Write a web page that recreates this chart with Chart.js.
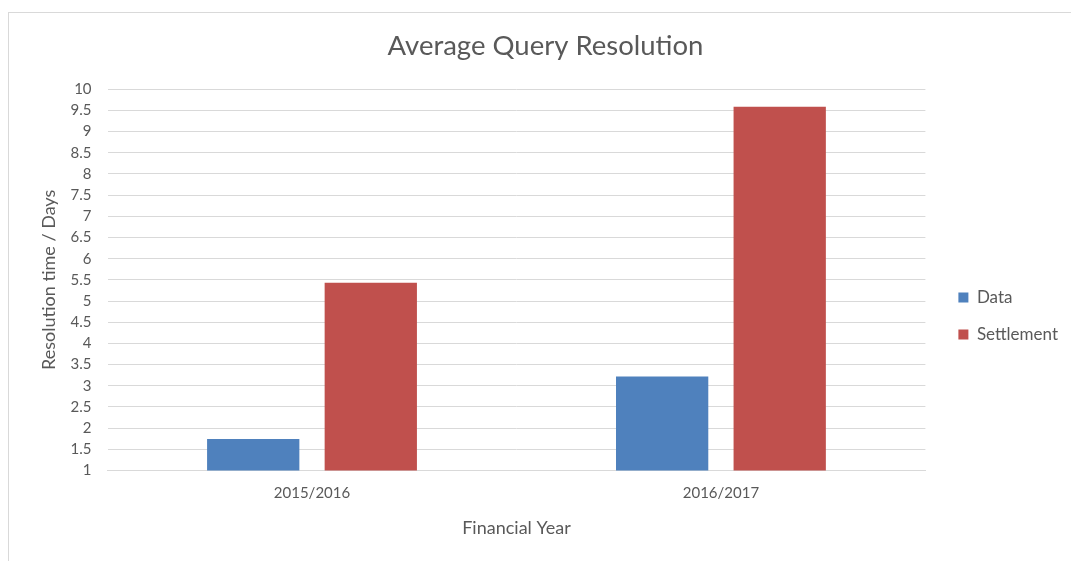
<!DOCTYPE html>
<html>
<head>
<meta charset="utf-8">
<script src="https://cdn.jsdelivr.net/npm/chart.js@4.4.1/dist/chart.umd.min.js"></script>
<style>
  html, body { margin: 0; padding: 0; background: #fff; }
  .frame {
    position: absolute; left: 8px; top: 12px;
    width: 1063px; height: 549px;
    border-top: 1px solid #d9d9d9; border-left: 1px solid #d9d9d9;
  }
  canvas { display: block; }
</style>
</head>
<body>
<div class="frame">
  <canvas id="chart" width="1063" height="549"></canvas>
</div>
<script>
const years = ['2015/2016', '2016/2017'];
const dataDays = [1.74, 3.22];
const settlementDays = [5.43, 9.59];

const textColor = '#595959';
const gridColor = '#d9d9d9';
const font = "Lato, 'Open Sans', sans-serif";

const ctx = document.getElementById('chart').getContext('2d');
new Chart(ctx, {
  type: 'bar',
  data: {
    labels: years,
    datasets: [
      {
        label: 'Data',
        data: dataDays,
        backgroundColor: '#4f81bd'
      },
      {
        label: 'Settlement',
        data: settlementDays,
        backgroundColor: '#c0504d'
      }
    ]
  },
  options: {
    responsive: false,
    animation: false,
    categoryPercentage: 0.575,
    barPercentage: 0.785,
    layout: {
      padding: { left: 14, right: 4, top: 0, bottom: 23 }
    },
    plugins: {
      title: {
        display: true,
        text: 'Average Query Resolution',
        color: textColor,
        font: { family: font, size: 27.5, weight: 'normal' },
        padding: { top: 17, bottom: 26.3 }
      },
      legend: {
        position: 'right',
        title: {
          display: true,
          text: ' ',
          font: { size: 10 },
          padding: { top: 68, bottom: 0 }
        },
        labels: {
          color: textColor,
          font: { family: font, size: 17 },
          boxWidth: 10,
          boxHeight: 10,
          padding: 20
        }
      },
      tooltip: { enabled: false }
    },
    scales: {
      x: {
        grid: { display: false, drawTicks: false },
        border: { color: gridColor },
        ticks: {
          color: textColor,
          font: { family: font, size: 15 },
          padding: 14
        },
        title: {
          display: true,
          text: 'Financial Year',
          color: textColor,
          font: { family: font, size: 18 },
          padding: { top: 1, bottom: 0 }
        }
      },
      y: {
        min: 1,
        max: 10,
        grid: { color: gridColor, drawTicks: false },
        border: { display: false },
        ticks: {
          stepSize: 0.5,
          color: textColor,
          font: { family: font, size: 15 },
          padding: 16,
          callback: v => v
        },
        title: {
          display: true,
          text: 'Resolution time / Days',
          color: textColor,
          font: { family: font, size: 18 },
          padding: { top: 15, bottom: -5 }
        }
      },
      // empty right-hand axis, only keeps a gap between the bars and the legend
      gap: {
        type: 'linear',
        position: 'right',
        grid: { display: false },
        border: { display: false },
        ticks: { display: false },
        afterFit: s => { s.width = 13; }
      }
    }
  }
});
</script>
</body>
</html>
